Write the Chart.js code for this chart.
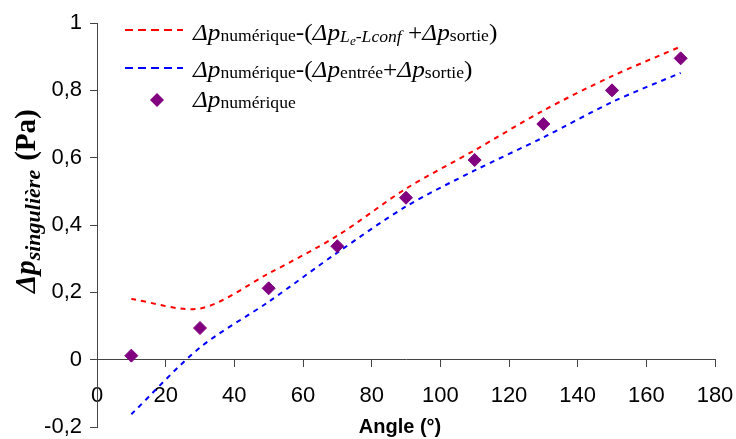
<!DOCTYPE html>
<html>
<head>
<meta charset="utf-8">
<script src="https://cdn.jsdelivr.net/npm/chart.js@4"></script>
<style>
  html, body { margin: 0; padding: 0; background: #fff; }
  canvas { display: block; }
</style>
</head>
<body>
<canvas id="c" width="736" height="439"></canvas>
<script>
// ── DATA ──────────────────────────────────────────────────────────────────────
const angles        = [10, 30, 50, 70, 90, 110, 130, 150, 170];
const dpNumerique   = [0.012, 0.094, 0.212, 0.337, 0.481, 0.593, 0.700, 0.800, 0.895];
const dpMinusLconf  = [0.180, 0.152, 0.256, 0.368, 0.508, 0.622, 0.740, 0.842, 0.930];
const dpMinusEntree = [-0.162, 0.036, 0.172, 0.318, 0.455, 0.562, 0.660, 0.765, 0.852];

const SERIF = '"Liberation Serif", "Times New Roman", serif';
const SANS  = '"Liberation Sans", Arial, sans-serif';
const AXIS_COL = '#444';

const pts = ys => angles.map((a, i) => ({ x: a, y: ys[i] }));

// draws a run of text pieces with their own font / baseline shift
function richText(ctx, x, y, parts) {
  for (const p of parts) {
    ctx.font = p.f;
    ctx.fillText(p.t, x + (p.dx || 0), y + (p.dy || 0));
    x += ctx.measureText(p.t).width + (p.dx || 0);
  }
  return x;
}

const bigI = `italic 23px ${SERIF}`, big = `23px ${SERIF}`, sub = `16px ${SERIF}`;
const subI = `italic 16px ${SERIF}`, subSubI = `italic 12px ${SERIF}`;
const LEG_STRETCH = 1.1; // the legend text in the figure is a bit wide

// ── TITLES + LEGEND ───────────────────────────────────────────────────────────
const decorPlugin = {
  id: 'decor',
  afterDraw(chart) {
    const { ctx } = chart;
    ctx.save();
    ctx.fillStyle = '#000';
    ctx.textBaseline = 'alphabetic';
    ctx.textAlign = 'left';

    // legend samples
    ctx.lineWidth = 2;
    ctx.setLineDash([8, 5]);
    ctx.strokeStyle = '#ff0000';
    ctx.beginPath(); ctx.moveTo(125, 30); ctx.lineTo(183, 30); ctx.stroke();
    ctx.strokeStyle = '#0000ff';
    ctx.beginPath(); ctx.moveTo(125, 68); ctx.lineTo(183, 68); ctx.stroke();
    ctx.setLineDash([]);
    ctx.fillStyle = '#800080';
    ctx.beginPath();
    ctx.moveTo(157, 93); ctx.lineTo(164, 100); ctx.lineTo(157, 107); ctx.lineTo(150, 100);
    ctx.closePath(); ctx.fill();
    ctx.fillStyle = '#000';

    // legend texts
    ctx.save();
    ctx.translate(193, 0);
    ctx.scale(LEG_STRETCH, 1);
    richText(ctx, 0, 40, [
      { t: 'Δp', f: bigI }, { t: 'numérique', f: sub, dy: 1 }, { t: '-(', f: big },
      { t: 'Δp', f: bigI }, { t: 'L', f: subI, dy: 2 }, { t: 'e', f: subSubI, dy: 5 },
      { t: '-L', f: subI, dy: 2 }, { t: 'conf', f: subI, dy: 2 }, { t: ' +', f: big },
      { t: 'Δp', f: bigI }, { t: 'sortie', f: sub, dy: 1 }, { t: ')', f: big }
    ]);
    richText(ctx, 0, 77, [
      { t: 'Δp', f: bigI }, { t: 'numérique', f: sub, dy: 1 }, { t: '-(', f: big },
      { t: 'Δp', f: bigI }, { t: 'entrée', f: sub, dy: 1 }, { t: '+', f: big },
      { t: 'Δp', f: bigI }, { t: 'sortie', f: sub, dy: 1 }, { t: ')', f: big }
    ]);
    richText(ctx, 0, 107, [
      { t: 'Δp', f: bigI }, { t: 'numérique', f: sub, dy: 1 }
    ]);
    ctx.restore();

    // y title (rotated)
    ctx.save();
    ctx.translate(35, 293);
    ctx.rotate(-Math.PI / 2);
    richText(ctx, 0, 0, [
      { t: 'Δp', f: `bold italic 29px ${SERIF}` },
      { t: 'singulière', f: `bold italic 22px ${SERIF}`, dy: 5 },
      { t: '(Pa)', f: `bold 29px ${SERIF}`, dx: 9 }
    ]);
    ctx.restore();

    // x title
    ctx.font = `bold 20px ${SANS}`;
    ctx.textAlign = 'center';
    ctx.fillText('Angle (°)', 400, 433);
    ctx.restore();
  }
};

// ── CHART ─────────────────────────────────────────────────────────────────────
new Chart(document.getElementById('c'), {
  type: 'scatter',
  data: {
    datasets: [
      {
        label: 'Δp numérique',
        data: pts(dpNumerique),
        pointStyle: 'rectRot',
        pointRadius: 6.5,
        backgroundColor: '#800080',
        borderColor: '#800080',
        borderWidth: 1,
        showLine: false,
        order: 0
      },
      {
        label: 'Δp numérique-(Δp Le-Lconf + Δp sortie)',
        data: pts(dpMinusLconf),
        showLine: true,
        borderColor: '#ff0000',
        borderWidth: 2,
        borderDash: [5, 5],
        tension: 0.3,
        pointRadius: 0,
        order: 1
      },
      {
        label: 'Δp numérique-(Δp entrée + Δp sortie)',
        data: pts(dpMinusEntree),
        showLine: true,
        borderColor: '#0000ff',
        borderWidth: 2,
        borderDash: [5, 5],
        tension: 0.3,
        pointRadius: 0,
        order: 2
      }
    ]
  },
  options: {
    responsive: false,
    devicePixelRatio: 1,
    animation: false,
    layout: { padding: { left: 0, right: 21, top: 23, bottom: 12 } },
    plugins: { legend: { display: false }, tooltip: { enabled: false } },
    scales: {
      x: {
        type: 'linear',
        position: { y: 0 },
        min: 0, max: 180,
        // the tick labels may overhang the plot edge, as in the figure
        afterFit: s => { s.paddingLeft = 0; s.paddingRight = 0; },
        grid: { drawOnChartArea: false, drawTicks: true, tickLength: 7, color: AXIS_COL },
        border: { display: true, color: AXIS_COL, width: 1 },
        ticks: { stepSize: 20, color: '#000', font: { family: SANS, size: 22 }, padding: 16, maxRotation: 0 }
      },
      y: {
        min: -0.2, max: 1,
        afterFit: s => { s.width = 97; s.paddingTop = 0; s.paddingBottom = 0; },
        grid: { drawOnChartArea: false, drawTicks: true, tickLength: 7, color: AXIS_COL },
        border: { display: true, color: AXIS_COL, width: 1 },
        ticks: {
          stepSize: 0.2, color: '#000', font: { family: SANS, size: 22 }, padding: 8,
          callback: v => String(Math.round(v * 10) / 10).replace('.', ',')
        }
      }
    }
  },
  plugins: [decorPlugin]
});
</script>
</body>
</html>
